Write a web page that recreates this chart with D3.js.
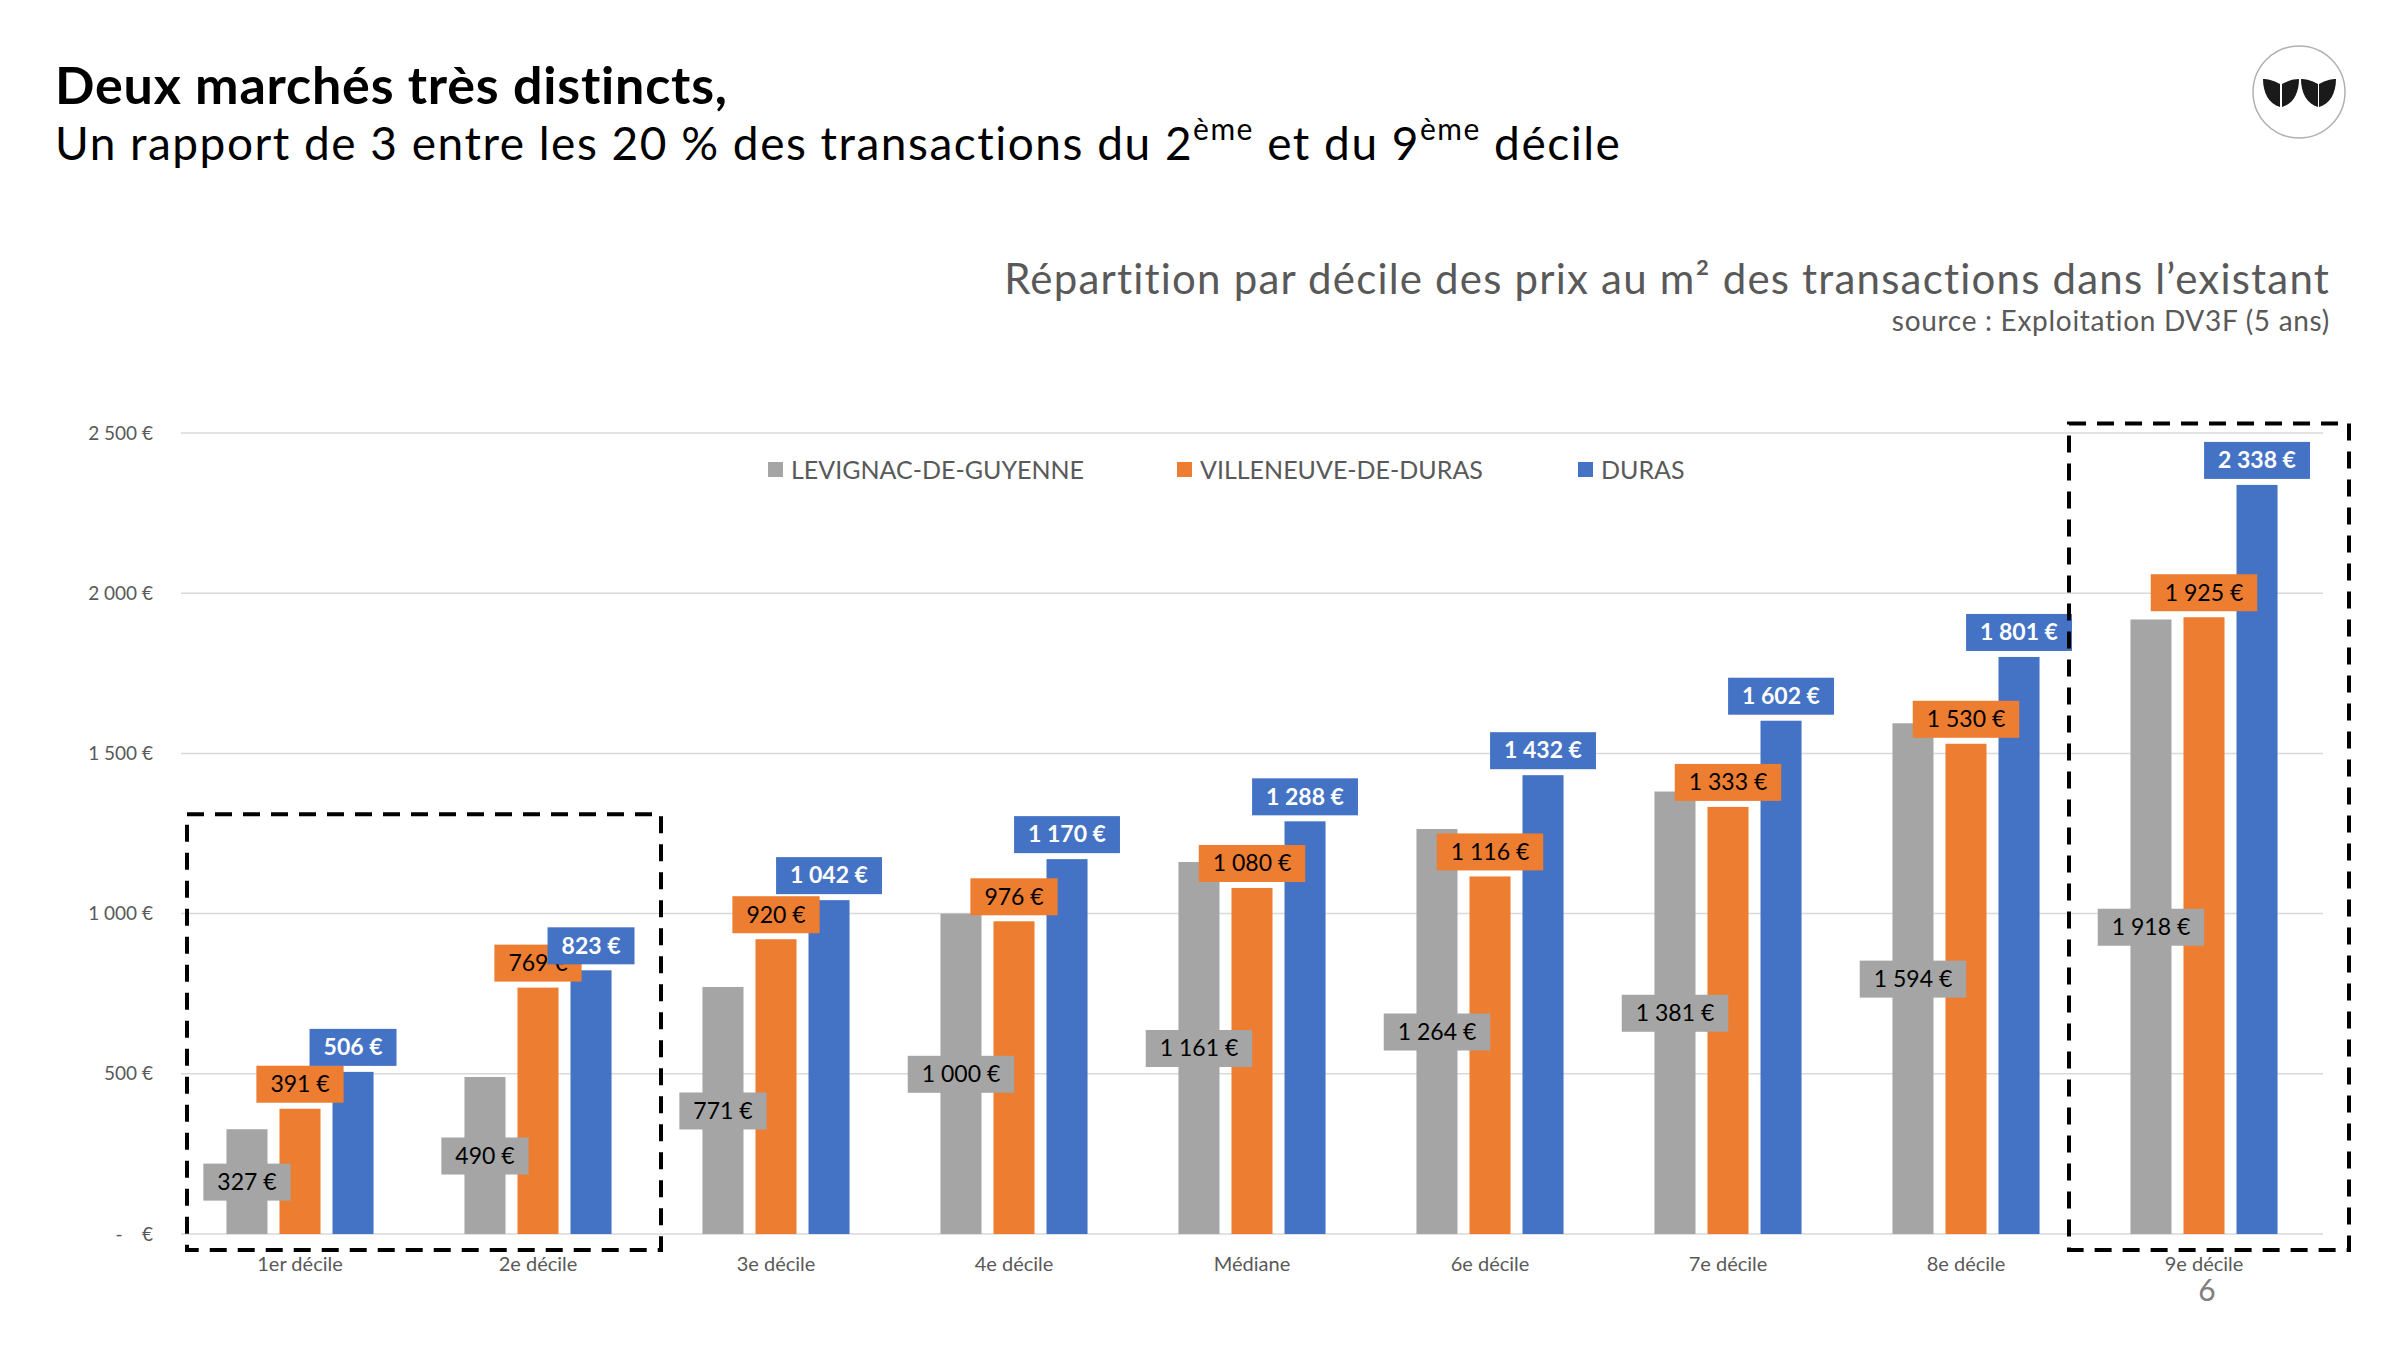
<!DOCTYPE html>
<html>
<head>
<meta charset="utf-8">
<script src="https://cdn.jsdelivr.net/npm/d3@7"></script>
<style>
  body { margin: 0; background: #fff; }
  text { font-family: Lato, "Open Sans", sans-serif; }
</style>
</head>
<body>
<svg id="chart" width="2400" height="1350"></svg>
<script>
// Data
const categories = ["1er décile", "2e décile", "3e décile", "4e décile", "Médiane", "6e décile", "7e décile", "8e décile", "9e décile"];
const seriesNames = ["LEVIGNAC-DE-GUYENNE", "VILLENEUVE-DE-DURAS", "DURAS"];
const levignac = [327, 490, 771, 1000, 1161, 1264, 1381, 1594, 1918];
const villeneuve = [391, 769, 920, 976, 1080, 1116, 1333, 1530, 1925];
const duras = [506, 823, 1042, 1170, 1288, 1432, 1602, 1801, 2338];
const yTicks = [0, 500, 1000, 1500, 2000, 2500];
// highlighted groups: first..last category, top of the box in €
const highlightFrom = [0, 8];
const highlightTo = [1, 8];
const highlightTop = [1310, 2530];

const colors = ["#A5A5A5", "#ED7D31", "#4472C4"];
const labelText = ["#000", "#000", "#fff"];

const fr = d3.formatLocale({decimal: ",", thousands: " ", grouping: [3], currency: ["", " €"]});
const euro = fr.format("$,.0f");

const svg = d3.select("#chart");

// Titles
svg.append("text").attr("x", 55).attr("y", 104)
    .style("font-size", "52px").style("font-weight", 700).style("letter-spacing", "0.8px")
    .attr("fill", "#000")
    .text("Deux marchés très distincts,");

const sub = svg.append("text").attr("x", 55).attr("y", 160)
    .style("font-size", "46px").style("letter-spacing", "1.5px").attr("fill", "#000");
sub.append("tspan").text("Un rapport de 3 entre les 20 % des transactions du 2");
sub.append("tspan").attr("dy", -20).style("font-size", "30px").text("ème");
sub.append("tspan").attr("dy", 20).text(" et du 9");
sub.append("tspan").attr("dy", -20).style("font-size", "30px").text("ème");
sub.append("tspan").attr("dy", 20).text(" décile");

svg.append("text").attr("x", 2330).attr("y", 294).attr("text-anchor", "end")
    .style("font-size", "42px").style("letter-spacing", "1.2px").attr("fill", "#595959")
    .text("Répartition par décile des prix au m² des transactions dans l’existant");
svg.append("text").attr("x", 2330).attr("y", 331).attr("text-anchor", "end")
    .style("font-size", "28px").style("letter-spacing", "0.7px").attr("fill", "#595959")
    .text("source : Exploitation DV3F (5 ans)");

// Logo
const logo = svg.append("g").attr("transform", "translate(2299,92)");
logo.append("circle").attr("r", 46).attr("fill", "#fff").attr("stroke", "#b0b0b0").attr("stroke-width", 1.5);
const leafL = "M17,28 L17,5 C10,1 4,0 0,0 C0,14 6,25 17,28 Z";
const leafR = "M0,28 L0,5 C7,1 13,0 17,0 C17,14 11,25 0,28 Z";
[[-36, leafL], [-17, leafR], [2, leafL], [20, leafR]].forEach(([dx, p]) => {
    logo.append("path").attr("d", p).attr("transform", `translate(${dx},-13)`).attr("fill", "#1a1a1a");
});

// Scales
const x = d3.scaleBand().domain(categories).range([181, 2323])
    .paddingInner(0.382).paddingOuter(0.191);
const xSub = d3.scaleBand().domain([0, 1, 2]).range([0, x.bandwidth()]).paddingInner(0.226);
const y = d3.scaleLinear().domain([0, 2500]).range([1234, 433]);

// Grid
svg.append("g").selectAll("line").data(yTicks).join("line")
    .attr("x1", 181).attr("x2", 2323)
    .attr("y1", d => y(d)).attr("y2", d => y(d))
    .attr("stroke", "#d9d9d9").attr("stroke-width", 1.5);

// Y axis labels
svg.append("g").selectAll("text").data(yTicks).join("text")
    .attr("x", 153).attr("y", d => y(d)).attr("dy", "0.35em")
    .attr("text-anchor", "end").style("font-size", "19px").attr("fill", "#595959")
    .style("white-space", "pre")
    .text(d => d === 0 ? "-    €" : euro(d));

// X axis labels
svg.append("g").selectAll("text").data(categories).join("text")
    .attr("x", d => x(d) + x.bandwidth() / 2).attr("y", 1271)
    .attr("text-anchor", "middle").style("font-size", "20px").attr("fill", "#595959")
    .text(d => d);

// Bars
const allSeries = [levignac, villeneuve, duras];
allSeries.forEach((vals, s) => {
    svg.append("g").selectAll("rect").data(vals).join("rect")
        .attr("x", (d, i) => x(categories[i]) + xSub(s))
        .attr("y", d => y(d))
        .attr("width", xSub.bandwidth())
        .attr("height", d => y(0) - y(d))
        .attr("fill", colors[s]);
});

// Data labels (grey centred, others outside end)
allSeries.forEach((vals, s) => {
    const g = svg.append("g");
    vals.forEach((v, i) => {
        const cx = x(categories[i]) + xSub(s) + xSub.bandwidth() / 2;
        const cy = s === 0 ? (y(v) + y(0)) / 2 : y(v) - 25;
        const lab = g.append("g").attr("transform", `translate(${cx},${cy})`);
        const box = lab.append("rect").attr("fill", colors[s]);
        const t = lab.append("text").attr("text-anchor", "middle").attr("dy", "0.36em")
            .style("font-size", "23px").style("font-weight", s === 2 ? 700 : 400)
            .attr("fill", labelText[s]).text(euro(v));
        const w = t.node().getComputedTextLength() + 28;
        box.attr("x", -w / 2).attr("y", -18).attr("width", w).attr("height", 37);
    });
});

// Legend
const legend = svg.append("g");
const legendX = [768, 1177, 1578];
seriesNames.forEach((n, s) => {
    legend.append("rect").attr("x", legendX[s]).attr("y", 462).attr("width", 15).attr("height", 15)
        .attr("fill", colors[s]);
    legend.append("text").attr("x", legendX[s] + 23).attr("y", 470).attr("dy", "0.36em")
        .style("font-size", "25px").attr("fill", "#595959").text(n);
});

// Dashed highlight boxes
highlightFrom.forEach((f, k) => {
    const x0 = x(categories[f]) - x.step() * x.paddingOuter() + (k === 0 ? 6 : -16);
    const x1 = x(categories[highlightTo[k]]) + x.bandwidth() + x.step() * x.paddingOuter() + (k === 0 ? 4 : 26);
    svg.append("rect")
        .attr("x", x0).attr("y", y(highlightTop[k]))
        .attr("width", x1 - x0).attr("height", y(0) + 16 - y(highlightTop[k]))
        .attr("fill", "none").attr("stroke", "#000").attr("stroke-width", 4)
        .attr("stroke-dasharray", "17,11");
});

// Page number
svg.append("text").attr("x", 2207).attr("y", 1301).attr("text-anchor", "middle")
    .style("font-size", "30px").attr("fill", "#7f7f7f").text("6");
</script>
</body>
</html>
